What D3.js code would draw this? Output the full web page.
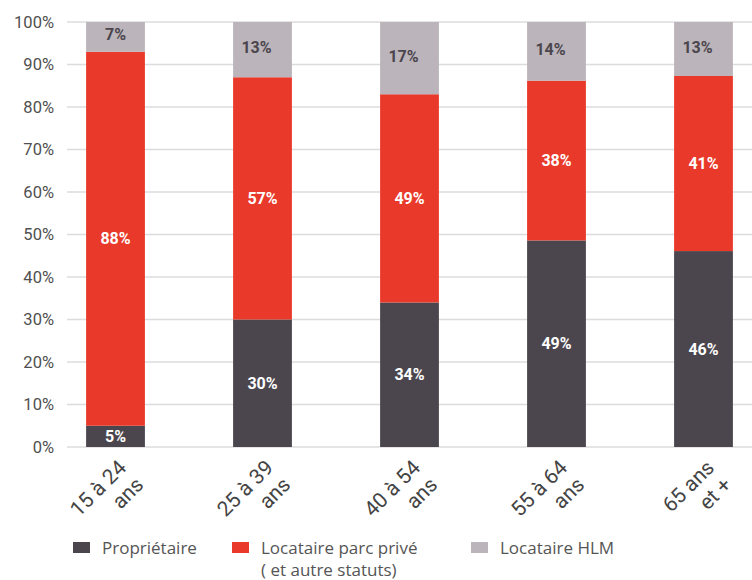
<!DOCTYPE html>
<html>
<head>
<meta charset="utf-8">
<script src="https://cdn.jsdelivr.net/npm/d3@7"></script>
<style>
  html, body { margin: 0; padding: 0; background: #fff; }
  svg { display: block; }
</style>
</head>
<body>
<svg id="chart" width="752" height="580"></svg>
<script>
// Age groups (two-line labels)
const categories = [
  ["15 à 24", "ans"],
  ["25 à 39", "ans"],
  ["40 à 54", "ans"],
  ["55 à 64", "ans"],
  ["65 ans", "et +"]
];
// Shares per housing status, in %
const proprietaire = [5, 30, 34, 48.6, 46.1];
const locatairePrive = [88, 57, 49, 37.6, 41.2];
const locataireHLM = [7, 13, 17, 13.8, 12.7];
const yTicks = [0, 10, 20, 30, 40, 50, 60, 70, 80, 90, 100];

const seriesNames = ["Propriétaire", "Locataire parc privé\n( et autre statuts)", "Locataire HLM"];
const colors = ["#4b464d", "#e9392a", "#bbb4ba"];
const labelColors = ["#ffffff", "#ffffff", "#4b464d"];

const svg = d3.select("#chart");
const font = "Roboto, 'Open Sans', sans-serif";

const x = d3.scaleBand()
  .domain(d3.range(categories.length))
  .range([67, 752])
  .paddingInner(0.6)
  .paddingOuter(0.13);

const y = d3.scaleLinear().domain([0, 100]).range([447, 22]);

// Gridlines
svg.append("g")
  .selectAll("line")
  .data(yTicks)
  .join("line")
  .attr("x1", 67).attr("x2", 752)
  .attr("y1", d => y(d)).attr("y2", d => y(d))
  .attr("stroke", "#dcdcdc")
  .attr("stroke-width", 1.5);

// Y tick labels
svg.append("g")
  .selectAll("text")
  .data(yTicks)
  .join("text")
  .attr("x", 54)
  .attr("y", d => y(d))
  .attr("dy", "0.35em")
  .attr("text-anchor", "end")
  .attr("font-family", font)
  .attr("font-size", 16.5)
  .attr("fill", "#505050")
  .text(d => d + "%");

// Stack the three series
const rows = categories.map((c, i) => ({ i, s0: proprietaire[i], s1: locatairePrive[i], s2: locataireHLM[i] }));
const stack = d3.stack().keys(["s0", "s1", "s2"]);
const layers = stack(rows);

const gBars = svg.append("g");
layers.forEach((layer, k) => {
  const g = gBars.append("g");
  g.selectAll("rect")
    .data(layer)
    .join("rect")
    .attr("x", d => x(d.data.i))
    .attr("width", x.bandwidth())
    .attr("y", d => y(d[1]))
    .attr("height", d => y(d[0]) - y(d[1]))
    .attr("fill", colors[k]);
  g.selectAll("text")
    .data(layer)
    .join("text")
    .attr("x", d => x(d.data.i) + x.bandwidth() / 2 - (k === 2 && d.data.i > 0 ? 6 : 0))
    .attr("y", d => y((d[0] + d[1]) / 2) - (k === 2 ? 2 : 0))
    .attr("dy", "0.35em")
    .attr("text-anchor", "middle")
    .attr("font-family", font)
    .attr("font-weight", "bold")
    .attr("font-size", 16)
    .attr("fill", labelColors[k])
    .text(d => Math.round(d[1] - d[0]) + "%");
});

// Rotated category labels
const gx = svg.append("g");
categories.forEach((lines, i) => {
  const cx = x(i) + x.bandwidth() / 2 + 12;
  const t = gx.append("text")
    .attr("transform", `translate(${cx},${469}) rotate(-45)`)
    .attr("text-anchor", "end")
    .attr("font-family", font)
    .attr("font-size", 21)
    .attr("fill", "#444");
  lines.forEach((ln, j) => {
    t.append("tspan")
      .attr("x", 0)
      .attr("dy", j === 0 ? 0 : "1.15em")
      .text(ln);
  });
});

// Legend
const legendX = [73, 232, 471];
const legend = svg.append("g");
seriesNames.forEach((name, k) => {
  legend.append("rect")
    .attr("x", legendX[k]).attr("y", 542)
    .attr("width", 17).attr("height", 11)
    .attr("fill", colors[k]);
  const t = legend.append("text")
    .attr("x", legendX[k] + 29).attr("y", 554)
    .attr("font-family", "'Open Sans', sans-serif")
    .attr("font-size", 17)
    .attr("fill", "#555");
  name.split("\n").forEach((ln, j) => {
    t.append("tspan")
      .attr("x", legendX[k] + 29)
      .attr("dy", j === 0 ? 0 : 22)
      .text(ln);
  });
});
</script>
</body>
</html>
